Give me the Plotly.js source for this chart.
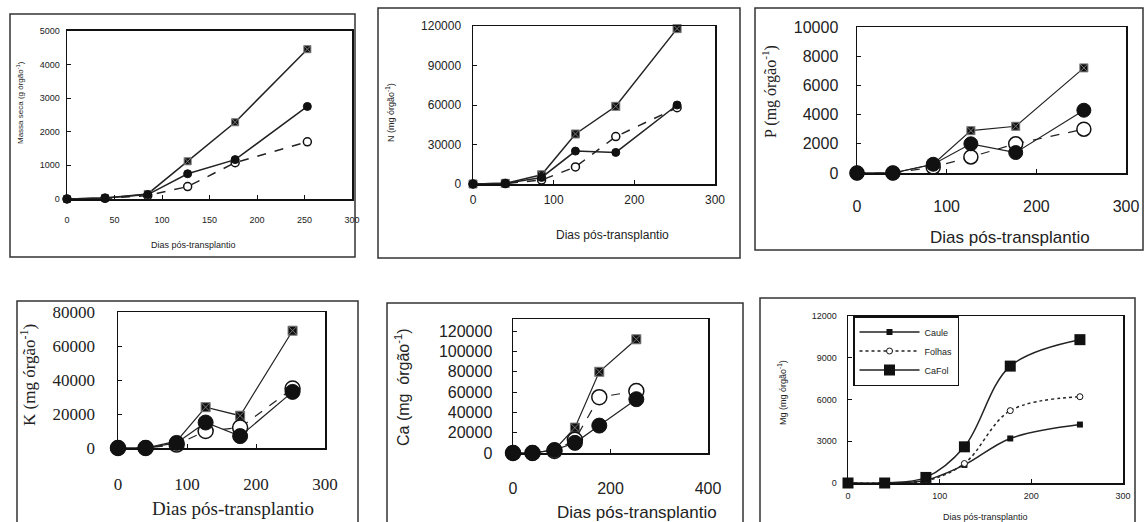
<!DOCTYPE html>
<html><head><meta charset="utf-8">
<script src="https://cdn.plot.ly/plotly-3.0.1.min.js"></script>
<style>html,body{margin:0;padding:0;background:#fff}#c{width:1146px;height:522px}</style>
</head><body><div id="c"></div>
<script>
// Days after transplanting
const days = [0, 40, 85, 127, 177, 253];

// Panel 1: Massa seca (g órgão-1)
const massaCaFol  = [0, 30, 150, 1120, 2280, 4450];
const massaCaule  = [0, 30, 130, 750, 1170, 2750];
const massaFolhas = [0, 20, 100, 370, 1080, 1700];

// Panel 2: N (mg órgão-1)
const nCaFol  = [0, 500, 7000, 38000, 59000, 118000];
const nCaule  = [0, 500, 5000, 25000, 24000, 60000];
const nFolhas = [0, 300, 3000, 13000, 36000, 58000];

// Panel 3: P (mg órgão-1)
const pCaFol  = [0, 0, 600, 2900, 3200, 7200];
const pCaule  = [0, 0, 600, 2000, 1400, 4300];
const pFolhas = [0, 0, 400, 1100, 2000, 3000];

// Panel 4: K (mg órgão-1)
const kCaFol  = [0, 0, 4000, 24000, 19000, 69000];
const kCaule  = [0, 0, 3000, 15000, 7000, 33000];
const kFolhas = [0, 0, 2000, 10000, 12000, 35000];

// Panel 5: Ca (mg órgão-1)
const caCaFol  = [0, 0, 3000, 25000, 80000, 112000];
const caCaule  = [0, 0, 3000, 10000, 27000, 53000];
const caFolhas = [0, 0, 2000, 13000, 55000, 61000];

// Panel 6
const p6Caule  = [0, 0, 200, 1300, 3200, 4200];
const p6Folhas = [0, 0, 150, 1400, 5200, 6200];
const p6CaFol  = [0, 0, 400, 2600, 8400, 10300];

const seriesNames = ['Caule', 'Folhas', 'CaFol'];

const W = 1146, H = 522;
const px = v => v / W;
const py = v => 1 - v / H;
const LC = '#222';

function trio(ax, caule, folhas, cafol, sq, circ, lw) {
  const xa = 'x' + (ax === 1 ? '' : ax), ya = 'y' + (ax === 1 ? '' : ax);
  return [
    {x: days, y: cafol, xaxis: xa, yaxis: ya, mode: 'lines+markers', name: seriesNames[2], showlegend: false, cliponaxis: false,
     line: {color: LC, width: lw}, marker: {symbol: 'square-x', size: sq, color: '#111', line: {color: '#777', width: 1}}},
    {x: days, y: folhas, xaxis: xa, yaxis: ya, mode: 'lines+markers', name: seriesNames[1], showlegend: false, cliponaxis: false,
     line: {color: LC, width: lw, dash: 'dash'}, marker: {symbol: 'circle', size: circ, color: '#fff', line: {color: '#111', width: 1.5}}},
    {x: days, y: caule, xaxis: xa, yaxis: ya, mode: 'lines+markers', name: seriesNames[0], showlegend: false, cliponaxis: false,
     line: {color: LC, width: lw}, marker: {symbol: 'circle', size: circ, color: '#111', line: {color: '#111', width: 1}}}
  ];
}

let data = [];
data = data.concat(trio(1, massaCaule, massaFolhas, massaCaFol, 7, 8, 1.5));
data = data.concat(trio(2, nCaule, nFolhas, nCaFol, 8, 8, 1.5));
data = data.concat(trio(3, pCaule, pFolhas, pCaFol, 8, 14, 1.2));
data = data.concat(trio(4, kCaule, kFolhas, kCaFol, 9, 15, 1.2));
data = data.concat(trio(5, caCaule, caFolhas, caCaFol, 9, 15, 1.2));
// Panel 6 with legend
data.push({x: days, y: p6Caule, xaxis: 'x6', yaxis: 'y6', mode: 'lines+markers', name: seriesNames[0], cliponaxis: false,
  line: {color: LC, width: 1.5, shape: 'spline'}, marker: {symbol: 'square', size: 6, color: '#111'}});
data.push({x: days, y: p6Folhas, xaxis: 'x6', yaxis: 'y6', mode: 'lines+markers', name: seriesNames[1], cliponaxis: false,
  line: {color: LC, width: 1.5, dash: 'dot', shape: 'spline'}, marker: {symbol: 'circle', size: 6, color: '#fff', line: {color: '#111', width: 1}}});
data.push({x: days, y: p6CaFol, xaxis: 'x6', yaxis: 'y6', mode: 'lines+markers', name: seriesNames[2], cliponaxis: false,
  line: {color: LC, width: 1.5, shape: 'spline'}, marker: {symbol: 'square', size: 11, color: '#111'}});

function axes(d, range, dtick, font, standoff, extra) {
  return Object.assign({domain: d, range: range, dtick: dtick, tick0: 0, tickformat: 'd', showline: true, linecolor: '#111', linewidth: 1.5,
    mirror: true, ticks: 'inside', ticklen: 4, tickcolor: '#111', showgrid: false, zeroline: false, fixedrange: true,
    tickfont: font, ticklabelstandoff: standoff}, extra || {});
}

const f1 = {family: 'Liberation Sans Narrow, Arial, sans-serif', size: 9, color: '#222'};
const f2 = {family: 'Liberation Sans Narrow, Arial, sans-serif', size: 12, color: '#222'};
const f3 = {family: 'Liberation Sans, Arial, sans-serif', size: 16, color: '#222'};
const f4 = {family: 'Liberation Serif, Times New Roman, serif', size: 17, color: '#222'};
const f5 = {family: 'Liberation Sans, Arial, sans-serif', size: 16, color: '#222'};
const f6 = {family: 'Liberation Sans Narrow, Arial, sans-serif', size: 9, color: '#222'};

const layout = {
  width: W, height: H, margin: {l: 0, r: 0, t: 0, b: 0}, paper_bgcolor: '#fff', plot_bgcolor: '#fff',
  showlegend: true,
  legend: {x: px(853), y: py(316), xanchor: 'left', yanchor: 'top', bgcolor: '#fff', bordercolor: '#111', borderwidth: 1.5,
    font: {family: 'Liberation Sans, Arial, sans-serif', size: 9, color: '#222'}, tracegroupgap: 0, itemwidth: 60},
  xaxis:  axes([px(67), px(352)], [0, 300], 50, f1, 12, {anchor: 'y'}),
  yaxis:  axes([py(199), py(30.7)], [0, 5000], 1000, f1, 4, {anchor: 'x'}),
  xaxis2: axes([px(473), px(715)], [0, 300], 100, f2, 4, {anchor: 'y2'}),
  yaxis2: axes([py(184), py(26)], [0, 120000], 30000, f2, 8, {anchor: 'x2'}),
  xaxis3: axes([px(857), px(1126)], [0, 300], 100, f3, 18, {anchor: 'y3'}),
  yaxis3: axes([py(173), py(27)], [0, 10000], 2000, f3, 14, {anchor: 'x3'}),
  xaxis4: axes([px(118), px(325)], [0, 300], 100, f4, 20, {anchor: 'y4'}),
  yaxis4: axes([py(448), py(312)], [0, 80000], 20000, f4, 18, {anchor: 'x4'}),
  xaxis5: axes([px(513), px(708)], [0, 400], 200, f5, 20, {anchor: 'y5'}),
  yaxis5: axes([py(453), py(319)], [0, 132000], 20000, f5, 16, {anchor: 'x5', tickvals: [0, 20000, 40000, 60000, 80000, 100000, 120000]}),
  xaxis6: axes([px(848), px(1123)], [0, 300], 100, f6, 4, {anchor: 'y6'}),
  yaxis6: axes([py(483), py(316)], [0, 12000], 3000, f6, 8, {anchor: 'x6'}),
  shapes: [
    [10, 14, 355, 257], [378, 8, 740, 258], [755, 8, 1143, 250],
    [17, 301, 358, 530], [387, 303, 743, 530], [760, 298, 1135, 530]
  ].map(b => ({type: 'rect', xref: 'paper', yref: 'paper', x0: px(b[0]), x1: px(b[2]), y0: py(b[3]), y1: py(b[1]),
    line: {color: '#333', width: 1.5}, fillcolor: 'rgba(0,0,0,0)', layer: 'below'})),
  annotations: [
    {text: 'Dias pós-transplantio', x: px(193), y: py(245), font: f1},
    {text: 'Massa seca (g órgão<sup>-1</sup>)', x: px(20), y: py(103), textangle: -90, font: Object.assign({}, f1, {size: 8})},
    {text: 'Dias pós-transplantio', x: px(612), y: py(235), font: f2},
    {text: 'N (mg órgão<sup>-1</sup>)', x: px(390), y: py(113), textangle: -90, font: Object.assign({}, f2, {size: 9})},
    {text: 'Dias pós-transplantio', x: px(1010), y: py(237), font: {family: 'Liberation Sans, Arial, sans-serif', size: 17, color: '#222'}},
    {text: 'P (mg órgão<sup>-1</sup>)', x: px(770), y: py(92), textangle: -90, font: {family: 'Liberation Serif, serif', size: 16, color: '#222'}},
    {text: 'Dias pós-transplantio', x: px(233), y: py(508), font: {family: 'Liberation Serif, serif', size: 19, color: '#222'}},
    {text: 'K (mg órgão<sup>-1</sup>)', x: px(28), y: py(375), textangle: -90, font: {family: 'Liberation Serif, serif', size: 17, color: '#222'}},
    {text: 'Dias pós-transplantio', x: px(637), y: py(512), font: {family: 'Liberation Sans, Arial, sans-serif', size: 17, color: '#222'}},
    {text: 'Ca (mg  órgão<sup>-1</sup>)', x: px(402), y: py(387), textangle: -90, font: {family: 'Liberation Sans, Arial, sans-serif', size: 16, color: '#222'}},
    {text: 'Dias pós-transplantio', x: px(985), y: py(517), font: f6},
    {text: 'Mg (mg órgão<sup>-1</sup>)', x: px(782), y: py(393), textangle: -90, font: f6}
  ].map(a => Object.assign({xref: 'paper', yref: 'paper', showarrow: false, xanchor: 'center', yanchor: 'middle'}, a))
};

Plotly.newPlot('c', data, layout, {staticPlot: true, displayModeBar: false});
</script></body></html>
